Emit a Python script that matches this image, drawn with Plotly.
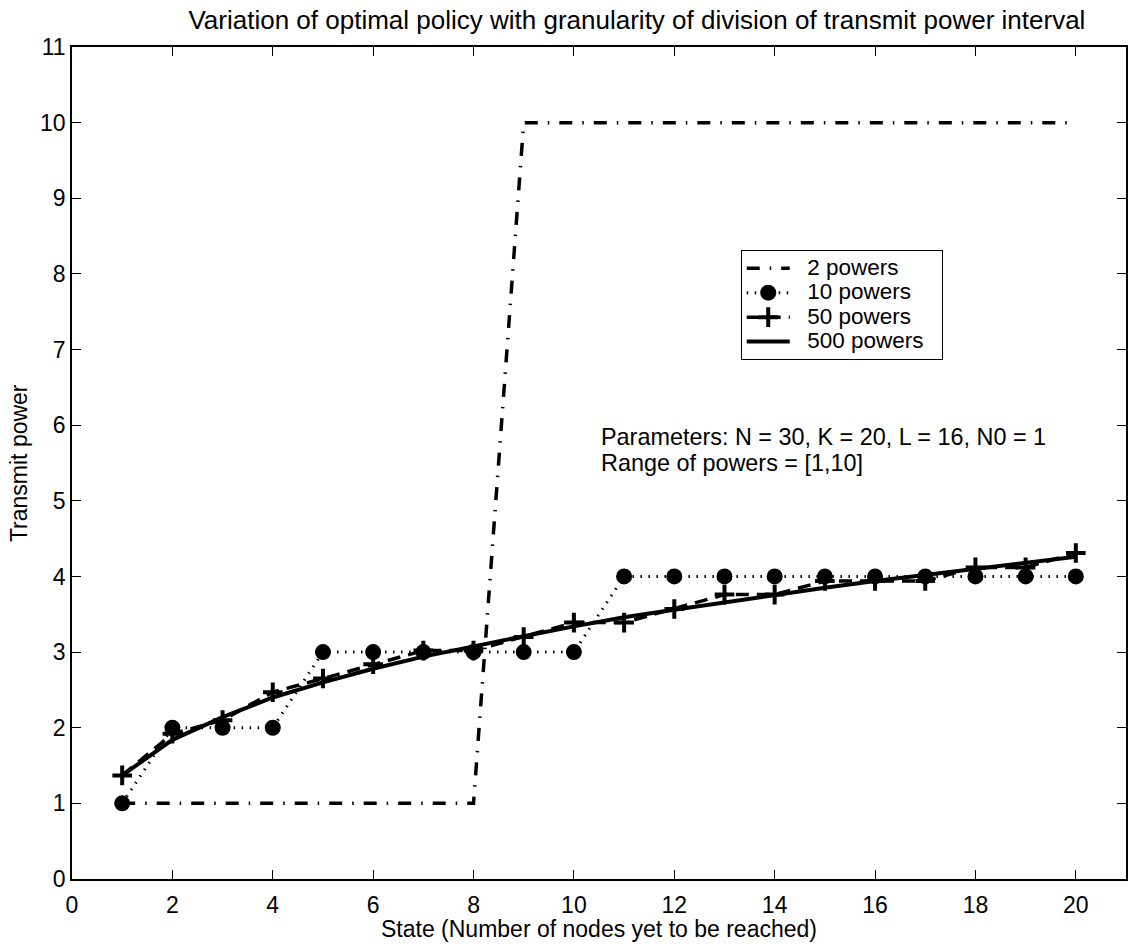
import plotly.graph_objects as go

# State axis: number of nodes yet to be reached
states = list(range(1, 21))

# Optimal transmit power per state for each power-grid granularity
power_2 = [1, 1, 1, 1, 1, 1, 1, 1, 10, 10, 10, 10, 10, 10, 10, 10, 10, 10, 10, 10]
power_10 = [1, 2, 2, 2, 3, 3, 3, 3, 3, 3, 4, 4, 4, 4, 4, 4, 4, 4, 4, 4]
power_50 = [1.37, 1.92, 2.10, 2.47, 2.65, 2.84, 3.02, 3.02, 3.20, 3.39,
            3.39, 3.57, 3.76, 3.76, 3.94, 3.94, 3.94, 4.12, 4.12, 4.31]
power_500 = [1.37, 1.84, 2.14, 2.40, 2.60, 2.78, 2.94, 3.08, 3.21, 3.34,
             3.46, 3.56, 3.66, 3.76, 3.85, 3.94, 4.02, 4.10, 4.18, 4.26]

series_names = ["2 powers", "10 powers", "50 powers", "500 powers"]

x_ticks = list(range(0, 21, 2))
y_ticks = list(range(0, 12))

FONT = "Liberation Sans, Arial, Helvetica, sans-serif"
NBSP = "\u00a0"


def legend_label(name):
    # larger glyphs than the legend's row pitch, padded on both sides
    return f"<span style='font-size:22.5px'>{NBSP * 2}{name}{NBSP * 2}</span>"


fig = go.Figure()

fig.add_trace(go.Scatter(
    x=states, y=power_2, name=legend_label(series_names[0]), mode="lines",
    line=dict(color="black", width=3.5, dash="13px,10px,1.5px,10px"),
))
fig.add_trace(go.Scatter(
    x=states, y=power_10, name=legend_label(series_names[1]), mode="lines+markers",
    line=dict(color="black", width=3, dash="1.5px,6.5px"),
    marker=dict(symbol="circle", size=16, color="black"),
))
fig.add_trace(go.Scatter(
    x=states, y=power_50, name=legend_label(series_names[2]), mode="lines+markers",
    line=dict(color="black", width=3.5, dash="13px,8px"),
    marker=dict(symbol="cross-thin", size=14, color="black",
                line=dict(color="black", width=4)),
))
fig.add_trace(go.Scatter(
    x=states, y=power_500, name=legend_label(series_names[3]), mode="lines",
    line=dict(color="black", width=4),
))

axis_common = dict(
    showgrid=False, zeroline=False,
    showline=True, linecolor="black", linewidth=1.5, mirror="ticks",
    ticks="inside", ticklen=9, tickwidth=1, tickcolor="black",
    tickfont=dict(family=FONT, size=23, color="black"),
)

fig.update_xaxes(range=[0, 21], tickvals=x_ticks, ticktext=[str(v) for v in x_ticks],
                 ticklabelstandoff=5, **axis_common)
fig.update_yaxes(range=[0, 11], tickvals=y_ticks, ticktext=[str(v) for v in y_ticks],
                 **axis_common)

fig.update_layout(
    width=1132, height=946,
    margin=dict(l=72, r=4, t=47, b=67),
    paper_bgcolor="white", plot_bgcolor="white",
    font=dict(family=FONT, color="black"),
    title=dict(
        text="Variation of optimal policy with granularity of division of transmit power interval",
        font=dict(family=FONT, size=26, color="black"),
        x=(638 - 72) / 1056, xref="paper", xanchor="center",
        y=1 - 20 / 946, yref="container", yanchor="middle",
    ),
    legend=dict(
        x=(742 - 72) / 1056, y=(879 - 250) / 832, xanchor="left", yanchor="top",
        bgcolor="white", bordercolor="black", borderwidth=1,
        font=dict(family=FONT, size=16.5, color="black"),
        itemwidth=43, tracegroupgap=0,
    ),
    showlegend=True,
)

annotations = [
    dict(text="State (Number of nodes yet to be reached)", x=0.5, y=(879 - 929) / 832,
         xref="paper", yref="paper", xanchor="center", yanchor="middle",
         showarrow=False, font=dict(family=FONT, size=23, color="black")),
    dict(text="Transmit power", x=(19 - 72) / 1056, y=0.5, textangle=-90,
         xref="paper", yref="paper", xanchor="center", yanchor="middle",
         showarrow=False, font=dict(family=FONT, size=23, color="black")),
    dict(text="Parameters: N = 30, K = 20, L = 16, N0 = 1", x=10.5, y=5.85,
         xref="x", yref="y", xanchor="left", yanchor="middle",
         showarrow=False, font=dict(family=FONT, size=23.4, color="black")),
    dict(text="Range of powers = [1,10]", x=10.5, y=5.50,
         xref="x", yref="y", xanchor="left", yanchor="middle",
         showarrow=False, font=dict(family=FONT, size=23.4, color="black")),
]
fig.update_layout(annotations=annotations)

fig.write_html("out.html")
